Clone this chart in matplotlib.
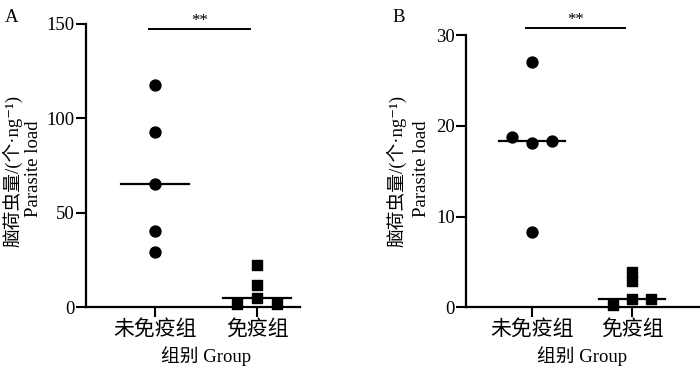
import numpy as np
import matplotlib.pyplot as plt
import matplotlib.transforms as mtransforms

plt.rcParams['font.family'] = ['Liberation Serif', 'Noto Sans CJK SC', 'DejaVu Serif']

# data
groups = ['未免疫组', '免疫组']
a_unimm = [117.5, 92.8, 65.4, 40.4, 29.3]
a_imm = [22.4, 11.7, 4.9, 1.6, 1.6]
b_unimm = [27.0, 18.8, 18.1, 18.3, 8.3]
b_imm = [3.9, 2.9, 0.9, 0.9, 0.25]

ylabel_cn = '脑荷虫量/(个·ng⁻¹)'
ylabel_en = 'Parasite load'
xlabel = '组别 Group'

W, H = 700, 367
fig = plt.figure(figsize=(7, 3.67), dpi=100)


def panel(rect, unimm, imm, off1, off2, ymax, yticks, xlim, sig_y, letter, letter_xy, ylab_x):
    ax = fig.add_axes(rect)
    ax.scatter(np.zeros(len(unimm)) + np.array(off1), unimm, s=62, c='black',
               marker='o', clip_on=False, zorder=3)
    ax.scatter(np.ones(len(imm)) + np.array(off2), imm, s=58, c='black',
               marker='s', clip_on=False, zorder=3)
    for i, vals in enumerate([unimm, imm]):
        m = np.median(vals)
        ax.plot([i - 0.33, i + 0.33], [m, m], color='black', lw=1.6,
                clip_on=False, zorder=4)
    ax.plot([-0.06, 0.93], [sig_y, sig_y], color='black', lw=1.4, clip_on=False)
    ax.text(0.44, sig_y, '**', ha='center', va='bottom', fontsize=12)
    ax.set_xlim(*xlim)
    ax.set_ylim(0, ymax)
    ax.set_yticks(yticks)
    ax.set_xticks([0, 1])
    ax.set_xticklabels(groups, fontsize=15)
    ax.tick_params(axis='y', labelsize=13.5, length=7, width=1.5, pad=1)
    ax.tick_params(axis='x', length=7, width=1.5, pad=2)
    for s in ['top', 'right']:
        ax.spines[s].set_visible(False)
    for s in ['left', 'bottom']:
        ax.spines[s].set_linewidth(1.6)
    # two-line y label, placed in figure pixels
    fig.text(ylab_x[0] / W, 1 - 171 / H, ylabel_cn, rotation=90, fontsize=13.5,
             ha='center', va='center')
    fig.text(ylab_x[1] / W, 1 - 169 / H, ylabel_en, rotation=90, fontsize=13.5,
             ha='center', va='center')
    # x label centred between the two groups
    tr = mtransforms.blended_transform_factory(ax.transData, fig.transFigure)
    ax.text(0.5, 1 - 356 / H, xlabel, transform=tr, fontsize=13.5,
            ha='center', va='center')
    fig.text(letter_xy[0] / W, 1 - letter_xy[1] / H, letter, fontsize=13.5,
             ha='left', va='center')
    return ax


panel([86 / W, 60 / H, 214 / W, 283 / H], a_unimm, a_imm,
      [0, 0, 0, 0, 0], [0, 0, 0, -0.2, 0.19],
      150, [0, 50, 100, 150], (-0.676, 1.42), 147.3, 'A', (5, 18), (12, 34))

panel([466 / W, 59.7 / H, 234 / W, 272.3 / H], b_unimm, b_imm,
      [0, -0.2, 0, 0.2, 0], [0, 0, 0, 0.19, -0.19],
      30, [0, 10, 20, 30], (-0.66, 1.68), 30.8, 'B', (392, 18), (396, 421))

fig.savefig('out.png', dpi=100)
